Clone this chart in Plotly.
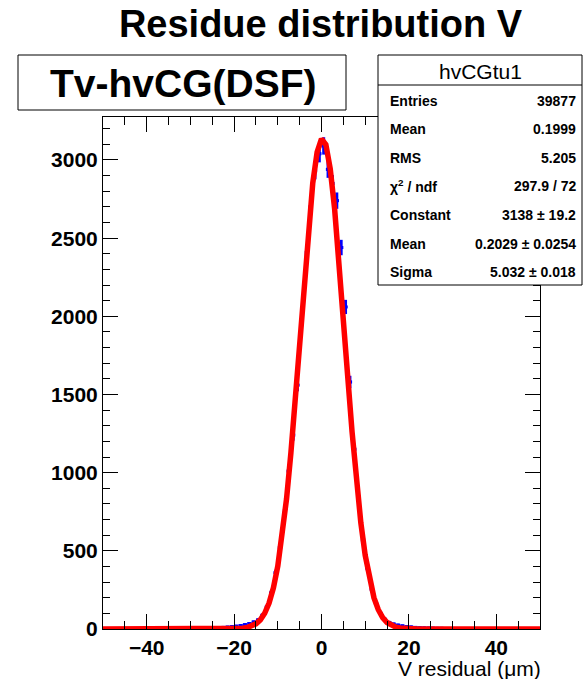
import plotly.graph_objects as go

# ---------------- data ----------------
BIN_LOW = -50.0
BIN_WIDTH = 1.0
COUNTS = ([0] * 12 +
          [1, 1, 2, 1, 2, 3, 2, 3, 4, 3, 5, 4, 6, 7, 8, 10, 12, 15, 18, 22,
           28, 35, 45, 58, 88, 140, 230, 360, 520, 740,
           1010, 1240, 1560, 1980, 2370, 2700, 2930, 3040,
           3090, 2940, 2850, 2740, 2440, 2060, 1580, 1150,
           830, 570, 390, 255, 160, 100, 62, 42, 32, 25,
           20, 16, 13, 10, 8, 7, 6, 5, 4, 4, 3, 3, 2, 2, 2, 1, 1, 1, 1] +
          [0] * 13)

# Gaussian fit curve as drawn (sampled at integer x, -50..50)
FIT_X = list(range(-50, 51))
FIT_Y = ([0.0] * 30 +
         [1.0, 2.2, 4.5, 9.1, 17.6, 32.8, 58.5, 100.5, 166.0, 263.5,
          402.1, 589.9, 831.8, 1127.4, 1468.9, 1839.7, 2215.0, 2563.5, 2851.9, 3050.0,
          3135.5,
          3098.6, 2943.5, 2687.9, 2359.5, 1991.0, 1614.9, 1259.2, 943.8, 680.1, 471.0,
          313.6, 200.6, 123.4, 73.0, 41.5, 22.7, 11.9, 6.0, 2.9, 1.4] +
         [0.0] * 30)

TITLE = "Residue distribution V"
LABEL = "Tv-hvCG(DSF)"
STATS_NAME = "hvCGtu1"
STATS_ROWS = [
    ("Entries", "39877"),
    ("Mean", "0.1999"),
    ("RMS", "5.205"),
    ("χ<sup>2</sup> / ndf", "297.9 / 72"),
    ("Constant", "3138 ± 19.2"),
    ("Mean", "0.2029 ± 0.0254"),
    ("Sigma", "5.032 ± 0.018"),
]
X_TICKS = [-40, -20, 0, 20, 40]
Y_TICKS = [0, 500, 1000, 1500, 2000, 2500, 3000]
X_TITLE = "V residual (μm)"

centers = [BIN_LOW + BIN_WIDTH * (i + 0.5) for i in range(len(COUNTS))]
errors = [c ** 0.5 for c in COUNTS]

# ---------------- layout geometry ----------------
W, H = 583, 679
ML, MR, MT, MB = 103, 43, 117, 50
PW, PH = W - ML - MR, H - MT - MB


def px(x):
    return (x - ML) / PW


def py(y):
    return (H - MB - y) / PH


FONT = "Liberation Sans, Arial, sans-serif"

fig = go.Figure()

nz = [i for i, c in enumerate(COUNTS) if c > 0]
fig.add_trace(go.Scatter(
    x=[centers[i] for i in nz], y=[COUNTS[i] for i in nz],
    mode="markers",
    marker=dict(color="#0000ff", size=3, symbol="square"),
    error_y=dict(type="data", array=[errors[i] for i in nz], color="#0000ff",
                 thickness=3, width=0),
    error_x=dict(type="constant", value=BIN_WIDTH / 2, color="#0000ff",
                 thickness=3, width=0),
    showlegend=False, hoverinfo="x+y",
))

fig.add_trace(go.Scatter(
    x=FIT_X, y=FIT_Y, mode="lines",
    line=dict(color="#ff0000", width=5.5),
    showlegend=False,
))

axis_common = dict(
    showline=True, linecolor="black", linewidth=1, mirror="ticks",
    ticks="inside", tickcolor="black", tickwidth=1,
    showgrid=False, zeroline=False,
    tickfont=dict(family=FONT, size=21, color="black", weight="bold"),
)

fig.update_xaxes(
    range=[-50, 50], tickvals=X_TICKS, ticklen=15,
    minor=dict(dtick=5, tick0=0, ticks="inside", ticklen=8, tickcolor="black", tickwidth=1),
    **axis_common,
)
fig.update_yaxes(
    range=[0, 3275], tickvals=Y_TICKS, ticklen=15,
    minor=dict(dtick=100, tick0=0, ticks="inside", ticklen=7, tickcolor="black", tickwidth=1),
    **axis_common,
)

shapes = []
annotations = []

# title-label box
shapes.append(dict(type="rect", xref="paper", yref="paper",
                   x0=px(18), x1=px(346), y0=py(110), y1=py(55),
                   line=dict(color="black", width=1), fillcolor="white"))
annotations.append(dict(xref="paper", yref="paper", x=px(183), y=py(83),
                        text="<b>" + LABEL + "</b>", showarrow=False,
                        xanchor="center", yanchor="middle",
                        font=dict(family=FONT, size=39, color="black")))

# stats box
SB_L, SB_R, SB_T, SB_B = 378, 582, 55, 285
shapes.append(dict(type="rect", xref="paper", yref="paper",
                   x0=px(SB_L), x1=px(SB_R), y0=py(SB_B), y1=py(SB_T),
                   line=dict(color="black", width=1), fillcolor="white"))
shapes.append(dict(type="line", xref="paper", yref="paper",
                   x0=px(SB_L), x1=px(SB_R), y0=py(85), y1=py(85),
                   line=dict(color="black", width=1)))
annotations.append(dict(xref="paper", yref="paper", x=px(480), y=py(71),
                        text=STATS_NAME, showarrow=False, xanchor="center", yanchor="middle",
                        font=dict(family=FONT, size=21, color="black")))
row_y0, row_dy = 100.5, 28.6
for k, (lab, val) in enumerate(STATS_ROWS):
    yy = row_y0 + k * row_dy
    annotations.append(dict(xref="paper", yref="paper", x=px(388), y=py(yy),
                            text="<b>" + lab + "</b>", showarrow=False,
                            xanchor="left", yanchor="middle",
                            font=dict(family=FONT, size=14, color="black")))
    annotations.append(dict(xref="paper", yref="paper", x=px(578), y=py(yy),
                            text="<b>" + val + "</b>", showarrow=False,
                            xanchor="right", yanchor="middle",
                            font=dict(family=FONT, size=14, color="black")))

# x-axis title (right aligned)
annotations.append(dict(xref="paper", yref="paper", x=px(543), y=py(668),
                        text=X_TITLE, showarrow=False, xanchor="right", yanchor="middle",
                        font=dict(family=FONT, size=21, color="black")))

fig.update_layout(
    width=W, height=H,
    margin=dict(l=ML, r=MR, t=MT, b=MB, autoexpand=False),
    paper_bgcolor="white", plot_bgcolor="white",
    title=dict(text="<b>" + TITLE + "</b>", x=320.5 / W, xref="container",
               y=1 - 24 / H, yref="container", xanchor="center", yanchor="middle",
               font=dict(family=FONT, size=38, color="black")),
    shapes=shapes, annotations=annotations,
)

fig.write_html("out.html")
